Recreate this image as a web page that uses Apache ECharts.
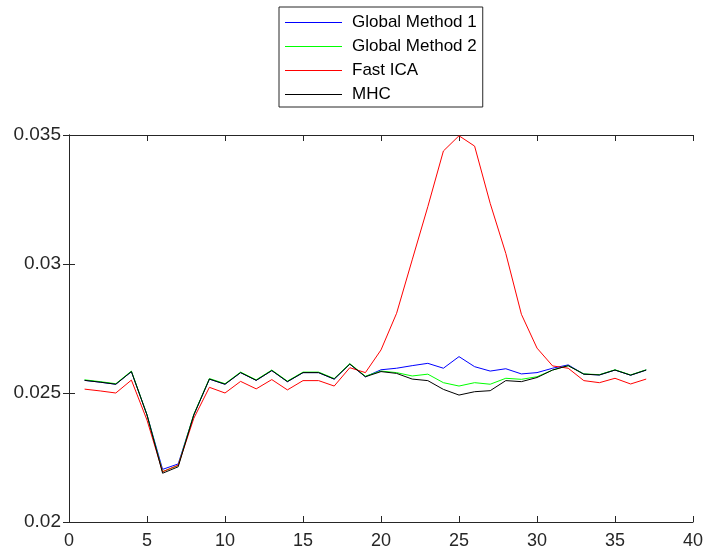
<!DOCTYPE html>
<html>
<head>
<meta charset="utf-8">
<script src="https://cdn.jsdelivr.net/npm/echarts@6/dist/echarts.min.js"></script>
<style>
  html, body { margin: 0; padding: 0; background: #fff; }
  #chart { width: 707px; height: 559px; }
</style>
</head>
<body>
<div id="chart"></div>
<script>
const xValues = [1, 2, 3, 4, 5, 6, 7, 8, 9, 10, 11, 12, 13, 14, 15, 16, 17, 18, 19,
  20, 21, 22, 23, 24, 25, 26, 27, 28, 29, 30, 31, 32, 33, 34, 35, 36, 37];

const globalMethod1 = [0.02549, 0.02542, 0.02534, 0.02583, 0.02415, 0.02204, 0.02225, 0.02415, 0.02554, 0.02534,
  0.02579, 0.02549, 0.02587, 0.02544, 0.02579, 0.02579, 0.02554, 0.02612, 0.02563, 0.0259,
  0.02596, 0.02606, 0.02615, 0.02596, 0.02641, 0.02602, 0.02585, 0.02594, 0.02574, 0.02579,
  0.02596, 0.02609, 0.02573, 0.0257, 0.02589, 0.02569, 0.02589];

const globalMethod2 = [0.02551, 0.02544, 0.02536, 0.02585, 0.02415, 0.02195, 0.02219, 0.02417, 0.02556, 0.02536,
  0.02581, 0.02551, 0.02589, 0.02546, 0.02581, 0.02581, 0.02556, 0.02614, 0.02565, 0.02585,
  0.02579, 0.02566, 0.02573, 0.0254, 0.02527, 0.0254, 0.02534, 0.02557, 0.02553, 0.02563,
  0.02589, 0.02606, 0.02574, 0.02571, 0.0259, 0.0257, 0.0259];

const fastICA = [0.02515, 0.02508, 0.025, 0.0255, 0.02395, 0.02195, 0.0222, 0.02402, 0.02522, 0.025,
  0.02545, 0.02516, 0.02552, 0.02512, 0.02548, 0.02548, 0.02527, 0.02598, 0.02579, 0.02667,
  0.02809, 0.03016, 0.03222, 0.03438, 0.03497, 0.03457, 0.03235, 0.03041, 0.02805, 0.02674,
  0.02605, 0.02596, 0.02548, 0.0254, 0.02557, 0.02535, 0.02554];

const mhc = [0.02549, 0.02542, 0.02534, 0.02583, 0.02415, 0.02189, 0.02214, 0.02415, 0.02554, 0.02534,
  0.02579, 0.02549, 0.02587, 0.02544, 0.02579, 0.02579, 0.02554, 0.02612, 0.02563, 0.02583,
  0.02576, 0.02554, 0.02548, 0.02514, 0.02492, 0.02505, 0.02509, 0.02548, 0.02544, 0.0256,
  0.02589, 0.02606, 0.02573, 0.0257, 0.02589, 0.02569, 0.02589];

const seriesNames = ["Global Method 1", "Global Method 2", "Fast ICA", "MHC"];
const seriesColors = ["#0000ff", "#00ff00", "#ff0000", "#000000"];
const seriesData = [globalMethod1, globalMethod2, fastICA, mhc];

const axisColor = "#262626";
const fontFamily = "'Liberation Sans', Arial, sans-serif";

const chart = echarts.init(document.getElementById("chart"));

// main axes on left/bottom, plain ones on top/right to close the box
const hiddenLabelAxis = {
  axisLine: { show: true, lineStyle: { color: axisColor, width: 1 } },
  axisTick: { show: true, inside: true, length: 6, lineStyle: { color: axisColor } },
  axisLabel: { show: false },
  splitLine: { show: false },
};

const option = {
  animation: false,
  backgroundColor: "#fff",
  grid: { left: 69, right: 14, top: 135, bottom: 37 },
  legend: {
    orient: "vertical",
    left: 279,
    top: 7,
    padding: [7, 6, 4, 6],
    itemGap: 7,
    itemWidth: 57,
    itemHeight: 1,
    icon: "rect",
    borderColor: axisColor,
    borderWidth: 1,
    backgroundColor: "#fff",
    data: seriesNames,
    textStyle: {
      color: "#000",
      fontSize: 17,
      fontFamily: fontFamily,
      lineHeight: 17,
      padding: [0, 0, 0, 5],
    },
  },
  xAxis: [
    {
      type: "value",
      min: 0,
      max: 40,
      interval: 5,
      position: "bottom",
      axisLine: { show: true, lineStyle: { color: axisColor, width: 1 } },
      axisTick: { show: true, inside: true, length: 6, lineStyle: { color: axisColor } },
      axisLabel: { color: axisColor, fontSize: 18, fontFamily: fontFamily, margin: 10 },
      splitLine: { show: false },
    },
    { type: "value", min: 0, max: 40, interval: 5, position: "top", ...hiddenLabelAxis },
  ],
  yAxis: [
    {
      type: "value",
      min: 0.02,
      max: 0.035,
      interval: 0.005,
      position: "left",
      axisLine: { show: true, lineStyle: { color: axisColor, width: 1 } },
      axisTick: { show: true, inside: true, length: 6, lineStyle: { color: axisColor } },
      axisLabel: { color: axisColor, fontSize: 19, fontFamily: fontFamily, margin: 8 },
      splitLine: { show: false },
    },
    { type: "value", min: 0.02, max: 0.035, interval: 0.005, position: "right", ...hiddenLabelAxis },
  ],
  series: seriesNames.map((name, i) => ({
    name: name,
    type: "line",
    symbol: "none",
    data: xValues.map((x, j) => [x, seriesData[i][j]]),
    lineStyle: { color: seriesColors[i], width: 1 },
    itemStyle: { color: seriesColors[i] },
  })),
};

chart.setOption(option);
</script>
</body>
</html>
